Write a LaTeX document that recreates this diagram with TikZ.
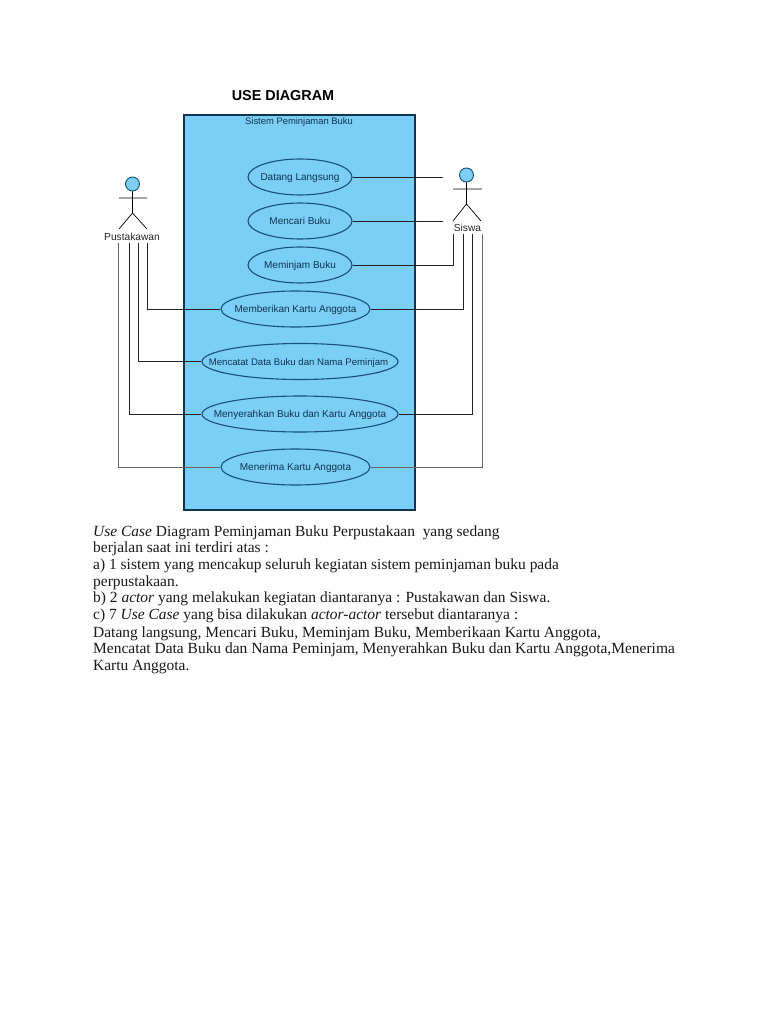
\documentclass[tikz,border=0pt]{standalone}
\usepackage{fontspec}
\setmainfont{Liberation Serif}
\setsansfont{Liberation Sans}
\usetikzlibrary{shapes.geometric}
\definecolor{sysblue}{HTML}{7BCEF6}
\definecolor{edgeblue}{HTML}{14527F}
\definecolor{navy}{HTML}{0E3550}
\definecolor{wire}{HTML}{222222}
\newcommand{\uctext}[2][0pt]{\raisebox{-3.6pt}[0pt][0pt]{\makebox[0pt][c]{\hspace*{#1}#2}}}
\tikzset{
  x=1pt,y=-1pt,
  usecase/.style={ellipse,draw=edgeblue,line width=1.1pt,fill=sysblue,inner sep=0pt,font=\sffamily\fontsize{10}{11}\selectfont,text=navy},
  ucsmall/.style={usecase,minimum width=104pt,minimum height=36pt},
  ucmid/.style={usecase,minimum width=149pt,minimum height=36pt},
  ucwide/.style={usecase,minimum width=196pt,minimum height=36pt},
  wirel/.style={draw=wire,line width=0.9pt},
  actorline/.style={draw=black,line width=0.7pt},
  actorhead/.style={circle,draw=edgeblue,line width=0.9pt,fill=sysblue,minimum size=14pt,inner sep=0pt},
  actorname/.style={font=\sffamily\fontsize{10.2}{11}\selectfont,text=black!85,inner sep=0pt},
  para/.style={anchor=base west,inner sep=0pt,font=\fontsize{15.47}{16}\selectfont,text=black!90},
}
\begin{document}
\begin{tikzpicture}
\useasboundingbox[fill=white] (0,0) rectangle (768,1024);
\node[anchor=center,inner sep=0pt,font=\sffamily\bfseries\fontsize{14.4}{15}\selectfont] (title) at (283,95.5) {USE DIAGRAM};
\node[draw=navy,line width=1.1pt,fill=sysblue,minimum width=231pt,minimum height=395pt,inner sep=0pt] (sys) at (299.5,312.5) {};
\node[font=\sffamily\fontsize{9.4}{11}\selectfont,text=navy,inner sep=0pt] (systitle) at (299,122.5) {Sistem Peminjaman Buku};
% use cases
\node[ucsmall] (uc1) at (300,177) {\uctext{Datang Langsung}};
\node[ucsmall] (uc2) at (300,221) {\uctext{Mencari Buku}};
\node[ucsmall] (uc3) at (300,265) {\uctext{Meminjam Buku}};
\node[ucmid] (uc4) at (295.5,309) {\uctext{Memberikan Kartu Anggota}};
\node[ucwide] (uc5) at (300,361.5) {\uctext[-3pt]{\fontsize{9.6}{11}\selectfont Mencatat Data Buku dan Nama Peminjam}};
\node[ucwide] (uc6) at (300,414) {\uctext{Menyerahkan Buku dan Kartu Anggota}};
\node[ucmid] (uc7) at (295.5,467) {\uctext{Menerima Kartu Anggota}};
% left actor
\node[actorhead] (headL) at (132.5,184) {};
\coordinate (hipL) at (132.5,213);
\coordinate (armLa) at (119,198);
\coordinate (armLb) at (147,198);
\coordinate (footLa) at (119,229);
\coordinate (footLb) at (147,229);
\draw[actorline] (headL) -- (hipL) (armLa) -- (armLb) (footLa) -- (hipL) -- (footLb);
\node[actorname] (pust) at (132,236.5) {Pustakawan};
% right actor
\node[actorhead] (headR) at (466.5,175) {};
\coordinate (hipR) at (466.5,204);
\coordinate (armRa) at (453,189);
\coordinate (armRb) at (482,189);
\coordinate (footRa) at (453,221);
\coordinate (footRb) at (481,221);
\draw[actorline] (headR) -- (hipR) (armRa) -- (armRb) (footRa) -- (hipR) -- (footRb);
\node[actorname] (siswa) at (467.5,228) {Siswa};
% connector anchors under the actor names
\coordinate (l1) at (147,243);
\coordinate (l2) at (138,243);
\coordinate (l3) at (129,243);
\coordinate (l4) at (118.5,243);
\coordinate (r1) at (453.5,234);
\coordinate (r2) at (463,234);
\coordinate (r3) at (472,234);
\coordinate (r4) at (482,234);
\coordinate (f1) at (443,177);
\coordinate (f2) at (443,221);
% connectors
\draw[wirel] (uc1) -- (f1);
\draw[wirel] (uc2) -- (f2);
\draw[wirel] (uc3.east) -| (r1);
\draw[wirel] (uc4.east) -| (r2);
\draw[wirel] (uc6.east) -| (r3);
\draw[wirel,draw=black!60] (uc7.east) -| (r4);
\draw[wirel] (uc4.west) -| (l1);
\draw[wirel] (uc5.west) -| (l2);
\draw[wirel] (uc6.west) -| (l3);
\draw[wirel,draw=black!60] (uc7.west) -| (l4);
% paragraph
\node[para] (p1) at (93,536) {\textit{Use Case} Diagram Peminjaman Buku Perpustakaan\ \ yang sedang};
\node[para] (p2) at (93,552.5) {berjalan saat ini terdiri atas :};
\node[para] (p3) at (93,569) {a) 1 sistem yang mencakup seluruh kegiatan sistem peminjaman buku pada};
\node[para] (p4) at (93,586) {perpustakaan.};
\node[para] (p5) at (93,602) {b) 2 \textit{actor} yang melakukan kegiatan diantaranya : Pustakawan dan Siswa.};
\node[para] (p6) at (93,619) {c) 7 \textit{Use Case} yang bisa dilakukan \textit{actor-actor} tersebut diantaranya :};
\node[para] (p7) at (93,637) {Datang langsung, Mencari Buku, Meminjam Buku, Memberikaan Kartu Anggota,};
\node[para] (p8) at (93,653) {Mencatat Data Buku dan Nama Peminjam, Menyerahkan Buku dan Kartu Anggota,Menerima};
\node[para] (p9) at (93,670) {Kartu Anggota.};
\end{tikzpicture}
\end{document}
